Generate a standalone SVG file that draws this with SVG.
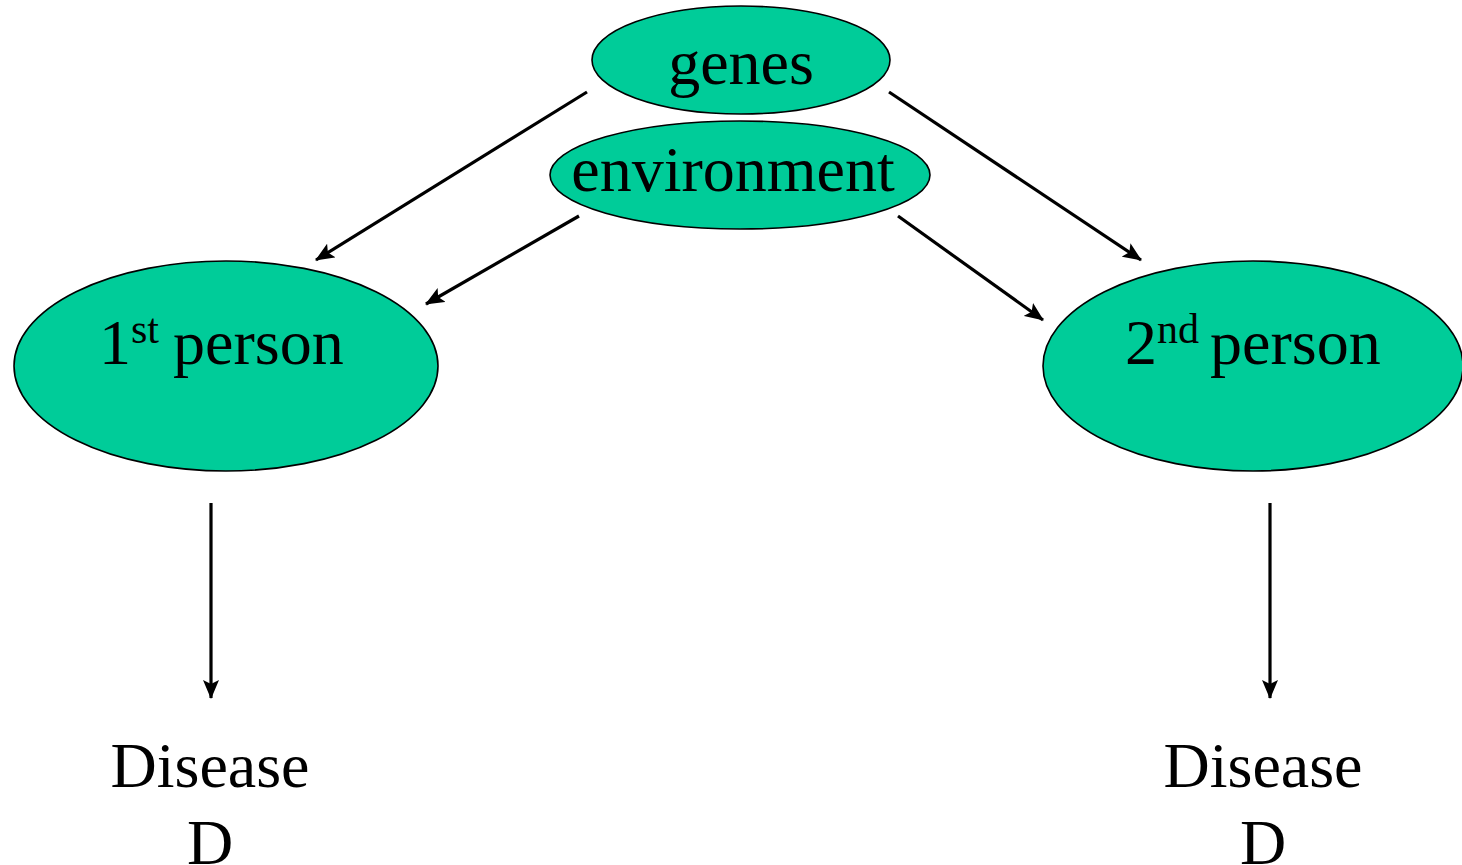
<svg xmlns="http://www.w3.org/2000/svg" width="1462" height="865" viewBox="0 0 1462 865">
<style>
.node{fill:#00CC99;stroke:#000;stroke-width:1.6}
.lbl{font-family:"Liberation Serif","Times New Roman",serif;font-size:64px;fill:#000}
.sup{font-size:42px}
.edge{stroke:#000;stroke-width:3.2;fill:none;marker-end:url(#ah)}
</style>
<defs>
<marker id="ah" markerUnits="userSpaceOnUse" markerWidth="20" markerHeight="16" refX="18" refY="8" orient="auto">
<path d="M0,0 L19,8 L0,16 L4,8 z" fill="#000"/>
</marker>
</defs>
<g id="connectors">
<line class="edge" x1="587" y1="92" x2="316" y2="260"/>
<line class="edge" x1="579" y1="216" x2="426" y2="304"/>
<line class="edge" x1="889" y1="92" x2="1141" y2="260"/>
<line class="edge" x1="898" y1="216" x2="1043" y2="320"/>
<line class="edge" x1="211" y1="503" x2="211" y2="698"/>
<line class="edge" x1="1270" y1="503" x2="1270" y2="698"/>
</g>
<g id="genes">
<ellipse class="node" cx="741" cy="60" rx="149" ry="54"/>
<text class="lbl" x="741" y="84" text-anchor="middle">genes</text>
</g>
<g id="environment">
<ellipse class="node" cx="740" cy="175" rx="190" ry="54"/>
<text class="lbl" x="733" y="191" text-anchor="middle">environment</text>
</g>
<g id="person1">
<ellipse class="node" cx="226" cy="366" rx="212" ry="105"/>
<text class="lbl" x="99" y="364">1<tspan class="sup" dy="-21">st</tspan><tspan dy="21" dx="-2"> person</tspan></text>
</g>
<g id="person2">
<ellipse class="node" cx="1253" cy="366" rx="210" ry="105"/>
<text class="lbl" x="1125" y="364">2<tspan class="sup" dy="-21">nd</tspan><tspan dy="21" dx="-5"> person</tspan></text>
</g>
<g id="disease1">
<text class="lbl" x="210" y="787" text-anchor="middle">Disease</text>
<text class="lbl" x="210" y="864" text-anchor="middle">D</text>
</g>
<g id="disease2">
<text class="lbl" x="1263" y="787" text-anchor="middle">Disease</text>
<text class="lbl" x="1263" y="864" text-anchor="middle">D</text>
</g>
</svg>
